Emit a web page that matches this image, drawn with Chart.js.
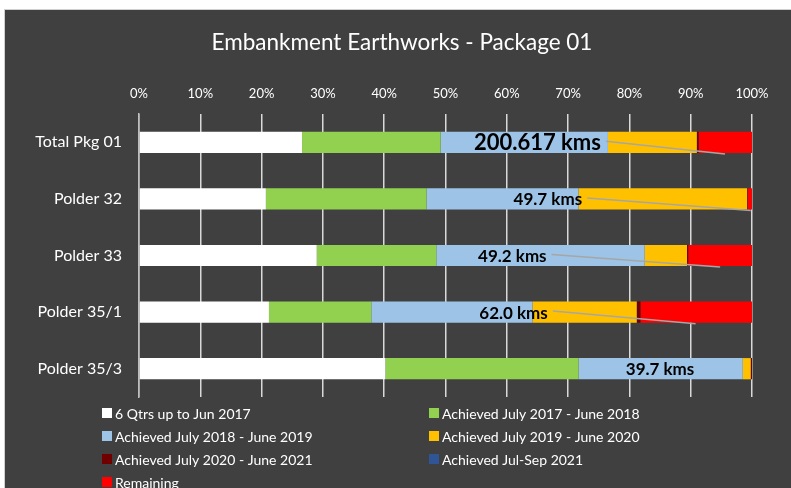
<!DOCTYPE html>
<html>
<head>
<meta charset="utf-8">
<script src="https://cdn.jsdelivr.net/npm/chart.js@4/dist/chart.umd.min.js"></script>
<style>
  html, body { margin: 0; padding: 0; background: #ffffff; }
  #wrap {
    position: absolute; left: 4px; top: 9px; width: 787px; height: 479px;
    background: #404040; border-top: 1px solid #d0d0d0; border-left: 1px solid #d0d0d0;
  }
</style>
</head>
<body>
<div id="wrap"><canvas id="earthChart"></canvas></div>
<script>
// Catégories et séries (en % de la longueur totale)
const categories = ['Total Pkg 01', 'Polder 32', 'Polder 33', 'Polder 35/1', 'Polder 35/3'];
const seriesNames = [
  '6 Qtrs up to Jun 2017',
  'Achieved July 2017 - June 2018',
  'Achieved July 2018 - June 2019',
  'Achieved July 2019 - June 2020',
  'Achieved July 2020 - June 2021',
  'Achieved Jul-Sep 2021',
  'Remaining'
];
const seriesColors = ['#ffffff', '#92d050', '#9dc3e6', '#ffc000', '#700000', '#2f5597', '#ff0000'];
const qtrs2017 = [26.6, 20.7, 29.0, 21.2, 40.2];
const fy2018 = [22.6, 26.2, 19.5, 16.7, 31.5];
const fy2019 = [27.3, 24.8, 34.0, 26.3, 26.8];
const fy2020 = [14.5, 27.5, 6.9, 17.0, 1.3];
const fy2021 = [0.3, 0.1, 0.2, 0.6, 0.2];
const julSep2021 = [0, 0, 0, 0, 0];
const remaining = [8.7, 0.7, 10.4, 18.2, 0];

// Étiquettes "kms" déplacées, avec lignes de rappel
const kmLabels = ['200.617 kms', '49.7 kms', '49.2 kms', '62.0 kms', '39.7 kms'];
const kmLabelAt = [65.0, 66.7, 60.9, 61.1, 85.0];
const kmLeaderTo = [95.6, 99.8, 94.8, 90.8, null];
const xTicks = [0, 10, 20, 30, 40, 50, 60, 70, 80, 90, 100];

const FONT = 'Lato, "Open Sans", sans-serif';
const seriesData = [qtrs2017, fy2018, fy2019, fy2020, fy2021, julSep2021, remaining];

const datasets = seriesNames.map((name, i) => ({
  label: name,
  data: seriesData[i],
  backgroundColor: seriesColors[i],
  borderWidth: 0,
  barPercentage: 0.75,
  categoryPercentage: 0.5
}));

// Titre, étiquettes et légende dessinés à la main
const decorPlugin = {
  id: 'decor',
  afterDatasetsDraw(chart) {
    const ctx = chart.ctx;
    const x = chart.scales.x;
    const bars = chart.getDatasetMeta(0).data;
    ctx.save();
    ctx.textBaseline = 'middle';
    kmLabels.forEach((txt, i) => {
      const bar = bars[i];
      const cx = x.getPixelForValue(kmLabelAt[i]);
      ctx.font = (i === 0 ? 'bold 22px ' : 'bold 17px ') + FONT;
      ctx.fillStyle = '#000000';
      ctx.textAlign = 'center';
      ctx.fillText(txt, cx, bar.y + 1);
      if (kmLeaderTo[i] !== null) {
        const w = ctx.measureText(txt).width;
        ctx.strokeStyle = '#a6a6a6';
        ctx.lineWidth = 1.5;
        ctx.beginPath();
        ctx.moveTo(cx + w / 2 + 5, bar.y - 1);
        ctx.lineTo(x.getPixelForValue(kmLeaderTo[i]), bar.y + bar.height / 2 + 1);
        ctx.stroke();
      }
    });
    ctx.restore();
  },
  afterDraw(chart) {
    const ctx = chart.ctx;
    ctx.save();
    ctx.fillStyle = '#ffffff';
    ctx.textAlign = 'center';
    ctx.textBaseline = 'middle';
    ctx.font = '22.5px ' + FONT;
    ctx.fillText('Embankment Earthworks - Package 01', 397, 33);

    // légende sur deux colonnes
    ctx.font = '14px ' + FONT;
    ctx.textAlign = 'left';
    seriesNames.forEach((name, i) => {
      const col = i % 2;
      const row = Math.floor(i / 2);
      const bx = col === 0 ? 97 : 424;
      const by = 403 + row * 23;
      ctx.fillStyle = seriesColors[i];
      ctx.fillRect(bx, by - 5, 10, 10);
      ctx.fillStyle = '#ffffff';
      ctx.fillText(name, bx + 13, by + 1);
    });
    ctx.restore();
  }
};

const ctx = document.getElementById('earthChart').getContext('2d');
window.earthChart = new Chart(ctx, {
  type: 'bar',
  data: { labels: categories, datasets },
  plugins: [decorPlugin],
  options: {
    indexAxis: 'y',
    responsive: true,
    maintainAspectRatio: false,
    animation: false,
    layout: { padding: { left: 0, right: 40, top: 0, bottom: 92 } },
    plugins: {
      legend: { display: false },
      title: { display: false },
      tooltip: { enabled: false }
    },
    scales: {
      x: {
        position: 'top',
        stacked: true,
        min: 0,
        max: 100,
        afterFit(scale) { scale.height = 104; },
        afterBuildTicks(scale) { scale.ticks = xTicks.map(v => ({ value: v })); },
        grid: { color: '#d9d9d9', lineWidth: 1.5, drawTicks: false },
        border: { display: false },
        ticks: {
          color: '#ffffff',
          padding: 12,
          font: { family: FONT, size: 13 },
          callback: v => v + '%'
        }
      },
      y: {
        stacked: true,
        afterFit(scale) { scale.width = 134; },
        grid: { display: false, drawTicks: false },
        border: { display: true, color: '#bfbfbf', width: 1.5 },
        ticks: {
          color: '#ffffff',
          padding: 17,
          font: { family: FONT, size: 16 }
        }
      }
    }
  }
});
</script>
</body>
</html>
